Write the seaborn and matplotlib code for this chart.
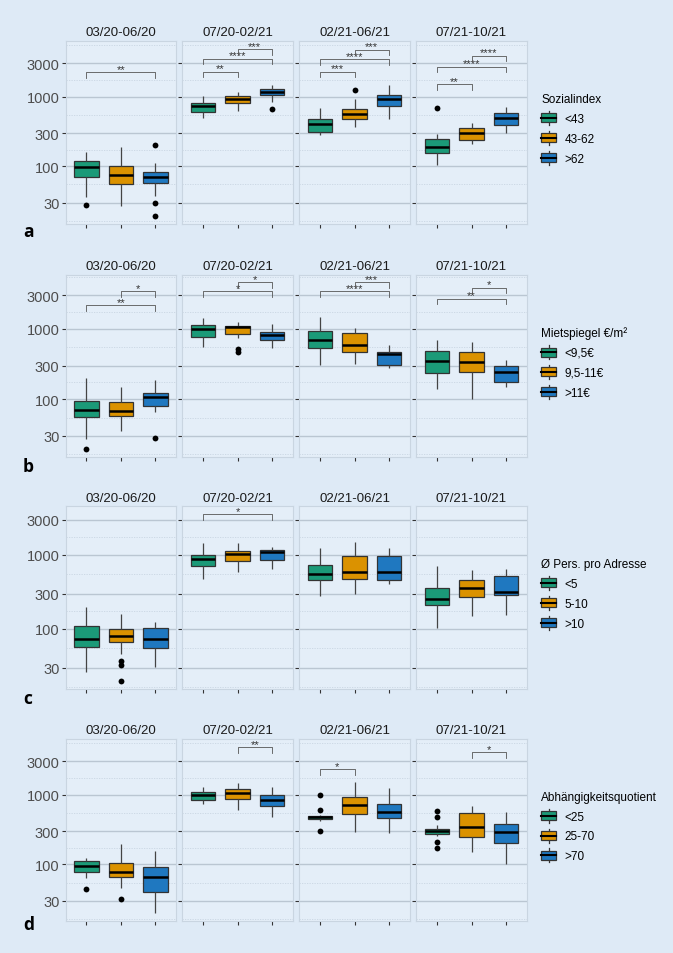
import numpy as np
import pandas as pd
import matplotlib
matplotlib.use("Agg")
import matplotlib.pyplot as plt
import seaborn as sns
from matplotlib.legend_handler import HandlerBase
from matplotlib.patches import Rectangle, Patch
from matplotlib.lines import Line2D
from matplotlib.ticker import FixedLocator, FixedFormatter, NullFormatter

# ---------------- data ----------------
periods = ["03/20-06/20", "07/20-02/21", "02/21-06/21", "07/21-10/21"]
colors = ["#1B9A78", "#DB9200", "#1F78C0"]
yticks = [30, 100, 300, 1000, 3000]
ytick_labels = ["30", "100", "300", "1000", "3000"]
minor_ticks = [16.4, 54.8, 173, 548, 1732, 5477]

# Row a: Sozialindex   (per period: [cat1, cat2, cat3])
title_a = "Sozialindex"
cats_a = ["<43", "43-62", ">62"]
lo_a = [[36, 27, 38], [490, 630, 850], [285, 366, 470], [103, 206, 296]]
q1_a = [[71, 56, 57], [605, 815, 1070], [313, 480, 730], [157, 235, 390]]
med_a = [[97, 74, 69], [730, 925, 1165], [410, 570, 925], [187, 296, 495]]
q3_a = [[120, 102, 82], [820, 1035, 1300], [475, 660, 1060], [250, 350, 580]]
hi_a = [[160, 190, 110], [1010, 1180, 1480], [690, 920, 1480], [287, 417, 705]]
out_a = [[[28], [], [200, 30, 19.5]], [[], [], [660]], [[], [1235], []], [[680], [], []]]
sig_a = [(0, 0, 2, 2230, "**"), (1, 0, 1, 2300, "**"), (1, 0, 2, 3490, "****"),
         (1, 1, 2, 4800, "***"), (2, 0, 1, 2300, "***"), (2, 0, 2, 3460, "****"),
         (2, 1, 2, 4700, "***"), (3, 0, 1, 1500, "**"), (3, 0, 2, 2680, "****"),
         (3, 1, 2, 3900, "****")]

# Row b: Mietspiegel
title_b = "Mietspiegel €/m²"
cats_b = ["<9,5€", "9,5-11€", ">11€"]
lo_b = [[27, 35.7, 65], [560, 738, 537], [305, 321, 279], [139, 102, 150]]
q1_b = [[55.5, 58.5, 81], [770, 841, 698], [531, 467, 308], [234, 244, 176]]
med_b = [[71, 69, 109], [1000, 1067, 830], [690, 592, 441], [351, 343, 242]]
q3_b = [[94, 91.6, 123], [1130, 1114, 906], [937, 877, 476], [486, 477, 294]]
hi_b = [[199, 150, 190], [1450, 1270, 1166], [1466, 1023, 586], [698, 647, 359]]
out_b = [[[19.8], [], [28.2]], [[], [520, 476], []], [[], [], []], [[], [], []]]
sig_b = [(0, 1, 2, 3436, "*"), (0, 0, 2, 2193, "**"), (1, 1, 2, 4660, "*"),
         (1, 0, 2, 3470, "*"), (2, 1, 2, 4620, "***"), (2, 0, 2, 3470, "****"),
         (3, 1, 2, 3873, "*"), (3, 0, 2, 2698, "**")]

# Row c: persons per address
title_c = "Ø Pers. pro Adresse"
cats_c = ["<5", "5-10", ">10"]
lo_c = [[26.5, 45.9, 30.3], [479, 594, 653], [279, 294, 402], [103, 150, 153]]
q1_c = [[57.7, 67.3, 55.3], [717, 830, 847], [455, 479, 459], [213, 273, 285]]
med_c = [[73.3, 80.3, 74], [883, 1042, 1087], [559, 594, 594], [252, 361, 316]]
q3_c = [[110, 101, 102], [1010, 1132, 1180], [726, 979, 979], [355, 459, 515]]
hi_c = [[198, 160, 124], [1466, 1452, 1282], [1232, 1483, 1244], [703, 621, 647]]
out_c = [[[], [37.3, 32.6, 19.6], []], [[], [], []], [[], [], []], [[], [], []]]
sig_c = [(1, 0, 2, 3548, "*")]

# Row d: Abhängigkeitsquotient
title_d = "Abhängigkeitsquotient"
cats_d = ["<25", "25-70", ">70"]
lo_d = [[64, 46.1, 19.8], [728, 602, 483], [415, 294, 282], [252, 150, 102]]
q1_d = [[76.7, 65, 40.4], [847, 877, 681], [455, 533, 458], [275, 247, 202]]
med_d = [[95.5, 76.7, 66.4], [990, 1068, 847], [478, 718, 559], [298, 347, 294]]
q3_d = [[111, 103, 91.5], [1104, 1196, 1000], [500, 927, 743], [318, 546, 379]]
hi_d = [[122, 198, 154], [1277, 1486, 1277], [505, 1507, 1248], [363, 695, 570]]
out_d = [[[43.7], [32.1], []], [[], [], []], [[990, 597, 298], [], []],
         [[583, 483, 207, 170], [], []]]
sig_d = [(1, 1, 2, 4800, "**"), (2, 0, 1, 2339, "*"), (3, 1, 2, 4064, "*")]

rows = [
    dict(title=title_a, cats=cats_a, lo=lo_a, q1=q1_a, med=med_a, q3=q3_a, hi=hi_a, out=out_a, sig=sig_a),
    dict(title=title_b, cats=cats_b, lo=lo_b, q1=q1_b, med=med_b, q3=q3_b, hi=hi_b, out=out_b, sig=sig_b),
    dict(title=title_c, cats=cats_c, lo=lo_c, q1=q1_c, med=med_c, q3=q3_c, hi=hi_c, out=out_c, sig=sig_c),
    dict(title=title_d, cats=cats_d, lo=lo_d, q1=q1_d, med=med_d, q3=q3_d, hi=hi_d, out=out_d, sig=sig_d),
]
letters = ["a", "b", "c", "d"]

# ---------------- layout (pixels) ----------------
W, H = 673, 954
panel_left = [65.7, 182.3, 299.3, 416.3]
panel_w = 110.4
row_top = [42, 275.7, 507.3, 740]
row_bot = [225, 457.7, 690.3, 922.3]
row_ylim = [(14.8, 6310), (15.2, 5916), (15.3, 4550), (15.2, 6310)]
letter_base = [236.7, 471.7, 704, 930]
legend_top = [94.0, 327.3, 559.0, 791.7]

BG = "#DEEAF6"
PANEL = "#E4EEF8"
BORDER = "#C9D5E1"
GRID = "#BAC6D2"
MINOR = "#C9D5E2"

plt.rcParams["font.family"] = ["Liberation Sans", "DejaVu Sans"]

fig = plt.figure(figsize=(W / 100, H / 100), dpi=100, facecolor=BG)


class BoxHandler(HandlerBase):
    def create_artists(self, legend, orig_handle, xdescent, ydescent, width,
                       height, fontsize, trans):
        col = orig_handle.get_facecolor()
        bh = height * 0.64
        x0 = -xdescent
        y0 = -ydescent + (height - bh) / 2
        wl = Line2D([x0 + width / 2] * 2, [-ydescent, y0], color="#333333",
                    lw=0.9, transform=trans)
        wh = Line2D([x0 + width / 2] * 2, [y0 + bh, height - ydescent],
                    color="#333333", lw=0.9, transform=trans)
        rect = Rectangle((x0, y0), width, bh, facecolor=col, edgecolor="#333333",
                         lw=0.9, transform=trans)
        med = Line2D([x0, x0 + width], [y0 + bh / 2] * 2, color="black",
                     lw=1.5, transform=trans)
        return [wl, wh, rect, med]


def box_values(lo, q1, med, q3, hi, m=10):
    return [lo] + [q1] * m + [med] * m + [q3] * m + [hi]


for r, row in enumerate(rows):
    cats = row["cats"]
    pal = dict(zip(cats, colors))
    axes = []
    for p in range(4):
        ax = fig.add_axes([panel_left[p] / W, 1 - row_bot[r] / H,
                           panel_w / W, (row_bot[r] - row_top[r]) / H])
        ax.set_facecolor(PANEL)
        recs = []
        for c, cat in enumerate(cats):
            vals = box_values(row["lo"][p][c], row["q1"][p][c], row["med"][p][c],
                              row["q3"][p][c], row["hi"][p][c])
            recs += [(cat, v) for v in vals]
        df = pd.DataFrame(recs, columns=["cat", "value"])
        sns.boxplot(data=df, x="cat", y="value", hue="cat", order=cats,
                    hue_order=cats, palette=pal, width=0.71, whis=np.inf,
                    showfliers=False, showcaps=False, saturation=1,
                    linewidth=0.9, linecolor="#333333", legend=False,
                    log_scale=(False, True),
                    medianprops=dict(color="black", linewidth=1.8),
                    whiskerprops=dict(color="#444444", linewidth=0.9),
                    ax=ax)
        orecs = [(cat, v) for c, cat in enumerate(cats) for v in row["out"][p][c]]
        if orecs:
            odf = pd.DataFrame(orecs, columns=["cat", "value"])
            sns.stripplot(data=odf, x="cat", y="value", order=cats, color="black",
                          jitter=False, size=4.2, linewidth=0,
                          log_scale=(False, True), ax=ax, zorder=5)
        # significance brackets
        tip = 10 ** 0.08
        for (pp, x1, x2, yv, lab) in row["sig"]:
            if pp != p:
                continue
            ax.plot([x1, x1, x2, x2], [yv / tip, yv, yv, yv / tip],
                    color="#555555", lw=0.6, zorder=6)
            ax.annotate(lab, xy=((x1 + x2) / 2, yv), xytext=(0, -1.2),
                        textcoords="offset points", ha="center", va="bottom",
                        fontsize=8, color="#333333")
        ax.set_xlim(-0.6, 2.6)
        ax.set_ylim(*row_ylim[r])
        ax.yaxis.set_major_locator(FixedLocator(yticks))
        ax.yaxis.set_minor_locator(FixedLocator(minor_ticks))
        ax.yaxis.set_minor_formatter(NullFormatter())
        if p == 0:
            ax.yaxis.set_major_formatter(FixedFormatter(ytick_labels))
        else:
            ax.yaxis.set_major_formatter(NullFormatter())
        ax.set_xticks([0, 1, 2])
        ax.set_xticklabels([])
        ax.set_xlabel("")
        ax.set_ylabel("")
        ax.set_axisbelow(True)
        ax.grid(which="major", axis="y", color=GRID, lw=1.0)
        ax.grid(which="minor", axis="y", color=MINOR, lw=0.6, ls=(0, (1.5, 1.5)))
        ax.grid(which="major", axis="x", visible=False)
        ax.tick_params(axis="y", which="major", length=3, width=0.8, color="#333333",
                       labelsize=10.5, labelcolor="#4D4D4D", pad=1.5)
        ax.tick_params(axis="y", which="minor", length=0)
        ax.tick_params(axis="x", length=3, width=0.8, color="#333333", pad=1)
        for s in ax.spines.values():
            s.set_color(BORDER)
            s.set_linewidth(0.8)
        ax.set_title(periods[p], fontsize=9.5, color="#1A1A1A", pad=4)
        axes.append(ax)

    handles = [Patch(facecolor=col) for col in colors]
    leg = axes[-1].legend(handles, cats, title=row["title"], loc="upper left",
                          bbox_to_anchor=(541 / W, 1 - legend_top[r] / H),
                          bbox_transform=fig.transFigure, frameon=False,
                          borderpad=0, borderaxespad=0, fontsize=8.5,
                          title_fontsize=8.5, handlelength=1.3, handleheight=1.45,
                          labelspacing=0.5, handletextpad=0.72, alignment="left",
                          handler_map={Patch: BoxHandler()})
    fig.text(23 / W, 1 - letter_base[r] / H, letters[r], fontsize=12.5,
             fontweight="bold", family=["Open Sans", "DejaVu Sans"], va="baseline",
             ha="left")

fig.savefig("out.png", dpi=100, facecolor=BG)
